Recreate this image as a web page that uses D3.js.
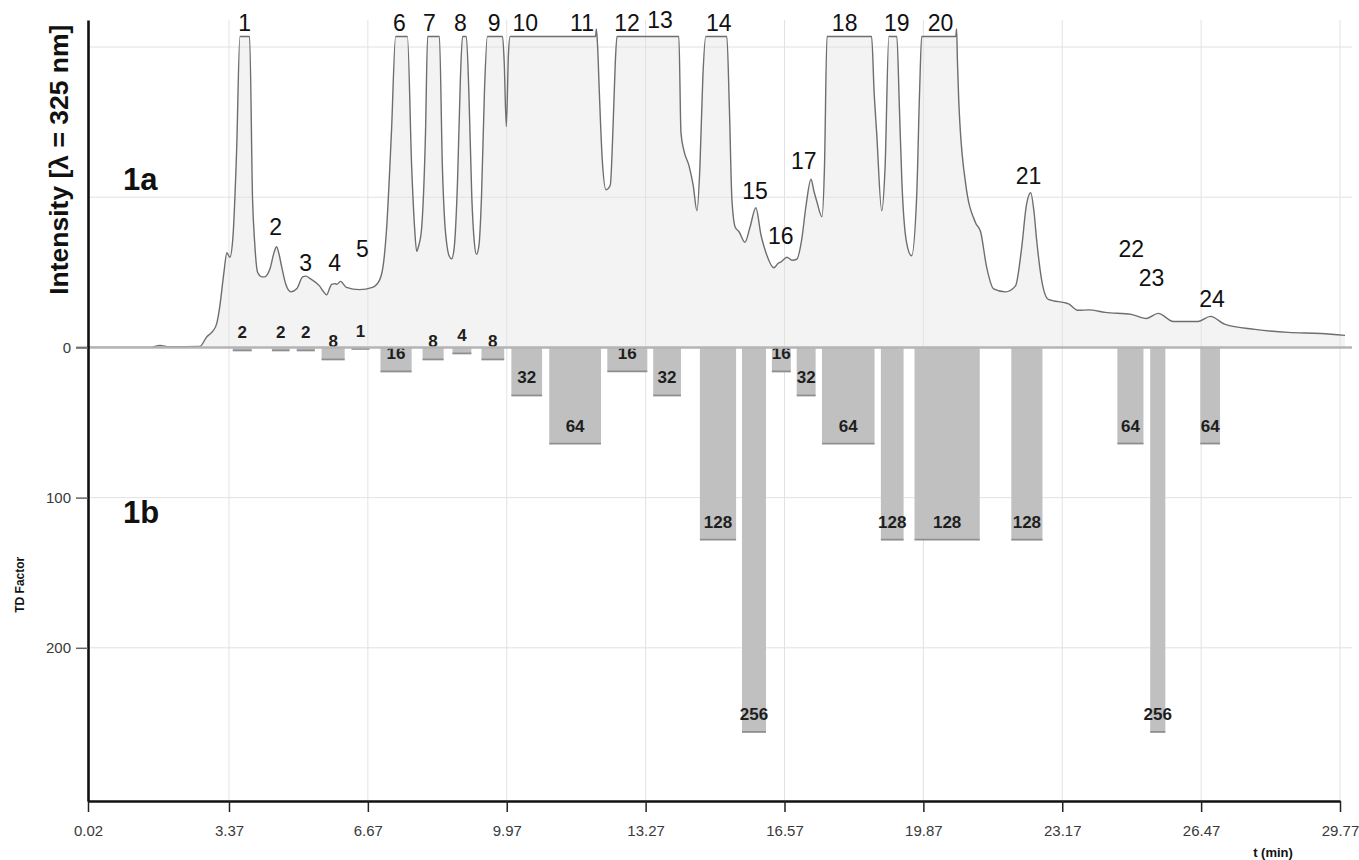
<!DOCTYPE html>
<html>
<head>
<meta charset="utf-8">
<script src="https://cdn.jsdelivr.net/npm/d3@7"></script>
<style>
  body { margin: 0; background: #fff; }
  text { font-family: "Liberation Sans", Arial, sans-serif; }
</style>
</head>
<body>
<div id="chart"></div>
<script>
// Chromatogram (1a) + TD factor bars (1b)

// ---- data ----
const timeTicks = [0.02, 3.37, 6.67, 9.97, 13.27, 16.57, 19.87, 23.17, 26.47, 29.77]
const tdTicks = [0, 100, 200]
const gridLevels = [-200, -100, 100, 200]

// chromatogram trace (flat tops = detector saturation)
const chromTime = [0.02, 1.50, 1.73, 1.95, 2.68, 2.84, 2.92, 2.99, 3.08, 3.15, 3.25, 3.32, 3.39, 3.46, 3.55, 3.63, 3.86, 3.93, 3.98, 4.05,
  4.15, 4.22, 4.34, 4.45, 4.50, 4.56, 4.62, 4.72, 4.84, 4.98, 5.12, 5.20, 5.29, 5.52, 5.62, 5.69, 5.77, 5.81, 5.90, 5.93,
  6.02, 6.16, 6.47, 6.78, 6.95, 7.05, 7.11, 7.23, 7.33, 7.61, 7.71, 7.78, 7.83, 7.88, 7.94, 8.04, 8.09, 8.37, 8.44, 8.50,
  8.54, 8.60, 8.66, 8.72, 8.80, 8.87, 8.92, 9.01, 9.07, 9.14, 9.20, 9.25, 9.31, 9.37, 9.44, 9.51, 9.87, 9.91, 9.96, 10.01,
  10.05, 12.08, 12.10, 12.13, 12.17, 12.24, 12.33, 12.43, 12.50, 12.55, 12.59, 14.06, 14.11, 14.18, 14.30, 14.40, 14.49, 14.56, 14.63, 14.70,
  15.20, 15.26, 15.32, 15.40, 15.49, 15.63, 15.75, 15.89, 16.01, 16.13, 16.32, 16.42, 16.49, 16.63, 16.75, 16.86, 16.98, 17.08, 17.20, 17.27,
  17.34, 17.46, 17.52, 17.58, 18.64, 18.70, 18.76, 18.88, 18.96, 19.05, 19.24, 19.30, 19.36, 19.47, 19.59, 19.71, 19.78, 19.83, 20.64, 20.66,
  20.68, 20.71, 20.87, 21.11, 21.23, 21.37, 21.54, 21.82, 22.06, 22.20, 22.32, 22.42, 22.50, 22.56, 22.68, 22.84, 23.32, 23.55, 23.80, 24.19,
  24.81, 25.17, 25.45, 25.81, 26.40, 26.69, 27.04, 27.75, 28.54, 29.32, 29.89]
const chromIntensity = [0, 0, 1.3, 0.5, 0.7, 7, 9, 11, 16, 27, 50, 63, 60, 72, 130, 207, 207, 99, 70, 50,
  47, 47, 52, 64, 67, 62, 54, 42, 37, 39, 47, 47.5, 46, 41, 37, 35, 40, 42, 42.5, 42,
  44, 40, 38.5, 40, 45, 58, 77, 143, 207, 207, 121, 80, 64, 68, 77, 143, 207, 207, 121, 82,
  70, 61, 59, 66, 110, 180, 207, 207, 170, 100, 70, 62, 68, 100, 170, 207, 207, 190, 147, 195,
  207, 207, 212, 200, 170, 125, 105, 108, 150, 190, 207, 207, 143, 131, 121, 108, 91, 120, 180, 207,
  207, 160, 99, 80, 77, 70, 80, 93, 75, 63, 53, 56, 57, 60, 58, 58.7, 72, 94, 112, 104,
  97, 87, 120, 207, 207, 170, 143, 91, 120, 207, 207, 160, 110, 70, 61, 100, 170, 207, 207, 212,
  190, 165, 110, 83, 77, 54, 39, 37, 41, 65, 95, 103, 90, 72, 45, 32, 29, 24.7, 25, 23.3,
  22, 19.3, 22.7, 17.3, 17.3, 20.7, 15.3, 12, 10, 9.3, 8]

// peak numbers and where their labels sit (time, intensity level)
const peakIds = ['1', '2', '3', '4', '5', '6', '7', '8', '9', '10', '11', '12', '13', '14', '15', '16', '17', '18', '19', '20', '21', '22', '23', '24']
const peakTime = [3.74, 4.48, 5.19, 5.88, 6.54, 7.42, 8.13, 8.87, 9.67, 10.41, 11.76, 12.83, 13.61, 15.01, 15.87, 16.48, 17.03, 18.00, 19.24, 20.28, 22.37, 24.81, 25.29, 26.73]
const peakLevel = [211, 75, 51, 51, 60, 211, 211, 211, 211, 211, 211, 211, 213, 211, 99, 69, 119, 211, 211, 211, 109, 60, 41, 27]

// TD factor fractions
const barStart = [3.46, 4.39, 4.98, 5.57, 6.28, 6.97, 7.97, 8.68, 9.37, 10.08, 10.98, 12.36, 13.45, 14.56, 15.56, 16.27, 16.86, 17.46, 18.86, 19.66, 21.96, 24.48, 25.26, 26.45]
const barEnd = [3.91, 4.81, 5.41, 6.12, 6.71, 7.71, 8.47, 9.13, 9.91, 10.81, 12.21, 13.31, 14.11, 15.42, 16.13, 16.72, 17.31, 18.71, 19.40, 21.21, 22.70, 25.10, 25.62, 26.92]
const tdValue = [2, 2, 2, 8, 1, 16, 8, 4, 8, 32, 64, 16, 32, 128, 256, 16, 32, 64, 128, 128, 128, 64, 256, 64]

// ---- layout ----
const width = 1359
const height = 860
const margin = { top: 20, right: 19, bottom: 59, left: 88 }
const plotRight = 1340
const plotBottom = height - margin.bottom

const x = d3.scaleLinear().domain([0.02, 29.77]).range([margin.left, plotRight])
const yTD = d3.scaleLinear().domain([-218, 302]).range([margin.top, plotBottom])
const yInt = d3.scaleLinear().domain([0, 218]).range([yTD(0), margin.top])

const svg = d3.select('#chart').append('svg')
  .attr('width', width)
  .attr('height', height)

const chromData = chromTime.map((t, i) => ({ t, v: chromIntensity[i] }))

const area = d3.area()
  .x(d => x(d.t))
  .y0(yTD(0))
  .y1(d => yInt(d.v))
  .curve(d3.curveMonotoneX)

const line = d3.line()
  .x(d => x(d.t))
  .y(d => yInt(d.v))
  .curve(d3.curveMonotoneX)

svg.append('path')
  .datum(chromData)
  .attr('d', area)
  .attr('fill', '#f3f3f3')

// grid lines drawn over the light fill
const gridGroup = svg.append('g')
gridGroup.selectAll('.vgrid')
  .data(timeTicks.slice(1))
  .join('line')
  .attr('x1', d => x(d)).attr('x2', d => x(d))
  .attr('y1', margin.top).attr('y2', plotBottom)
  .attr('stroke', '#e2e2e2')
  .attr('stroke-width', 1)
gridGroup.selectAll('.hgrid')
  .data(gridLevels)
  .join('line')
  .attr('x1', margin.left).attr('x2', plotRight + 12)
  .attr('y1', d => yTD(d)).attr('y2', d => yTD(d))
  .attr('stroke', '#e2e2e2')
  .attr('stroke-width', 1)

svg.append('path')
  .datum(chromData)
  .attr('d', line)
  .attr('fill', 'none')
  .attr('stroke', '#6e6e6e')
  .attr('stroke-width', 1.4)

// bars
const barData = tdValue.map((v, i) => ({ v, t0: barStart[i], t1: barEnd[i] }))
const bars = svg.append('g')
bars.selectAll('rect')
  .data(barData)
  .join('rect')
  .attr('x', d => x(d.t0))
  .attr('y', yTD(0))
  .attr('width', d => x(d.t1) - x(d.t0))
  .attr('height', d => yTD(d.v) - yTD(0))
  .attr('fill', '#c0c0c0')
bars.selectAll('line')
  .data(barData)
  .join('line')
  .attr('x1', d => x(d.t0)).attr('x2', d => x(d.t1))
  .attr('y1', d => yTD(d.v)).attr('y2', d => yTD(d.v))
  .attr('stroke', '#8e8e8e')
  .attr('stroke-width', 1.8)
bars.selectAll('text')
  .data(barData)
  .join('text')
  .attr('x', d => (x(d.t0) + x(d.t1)) / 2)
  .attr('y', d => yTD(d.v) - 12)
  .attr('text-anchor', 'middle')
  .attr('font-size', 17)
  .attr('font-weight', 'bold')
  .attr('fill', '#1e1e1e')
  .text(d => d.v)

// zero line
svg.append('line')
  .attr('x1', margin.left - 12).attr('x2', plotRight + 12)
  .attr('y1', yTD(0)).attr('y2', yTD(0))
  .attr('stroke', '#b4b4b4')
  .attr('stroke-width', 2.5)

// axes
const xAxis = d3.axisBottom(x)
  .tickValues(timeTicks)
  .tickFormat(d3.format('.2f'))
  .tickSize(11)
  .tickSizeOuter(0)
  .tickPadding(13)
const xAxisGroup = svg.append('g')
  .attr('transform', `translate(0, ${plotBottom})`)
  .call(xAxis)
xAxisGroup.select('.domain').attr('stroke', '#111').attr('stroke-width', 2.6)
xAxisGroup.selectAll('.tick line').attr('stroke', '#222').attr('stroke-width', 1.5)
xAxisGroup.selectAll('text')
  .attr('font-size', 15)
  .attr('fill', '#3a3a3a')
  .style('font-family', '"Liberation Sans", Arial, sans-serif')

const yAxis = d3.axisLeft(yTD)
  .tickValues(tdTicks)
  .tickSize(12)
  .tickSizeOuter(0)
  .tickPadding(5)
const yAxisGroup = svg.append('g')
  .attr('transform', `translate(${margin.left}, 0)`)
  .call(yAxis)
yAxisGroup.select('.domain').attr('stroke', '#111').attr('stroke-width', 2.6)
yAxisGroup.selectAll('.tick line').attr('stroke', '#666').attr('stroke-width', 1.5)
yAxisGroup.selectAll('text')
  .attr('font-size', 15)
  .attr('fill', '#3a3a3a')
  .style('font-family', '"Liberation Sans", Arial, sans-serif')

// peak numbers
svg.append('g').selectAll('text')
  .data(peakIds)
  .join('text')
  .attr('x', (d, i) => x(peakTime[i]))
  .attr('y', (d, i) => yInt(peakLevel[i]))
  .attr('text-anchor', 'middle')
  .attr('font-size', 23)
  .attr('fill', '#111')
  .text(d => d)

// panel tags and titles
svg.append('text')
  .attr('x', margin.left + 35).attr('y', yInt(105))
  .attr('font-size', 31).attr('font-weight', 'bold').attr('fill', '#111')
  .text('1a')
svg.append('text')
  .attr('x', margin.left + 35).attr('y', yTD(117))
  .attr('font-size', 31).attr('font-weight', 'bold').attr('fill', '#111')
  .text('1b')

svg.append('text')
  .attr('transform', `translate(68, ${yInt(125)}) rotate(-90)`)
  .attr('text-anchor', 'middle')
  .attr('font-size', 26.5).attr('font-weight', 'bold').attr('fill', '#111')
  .text('Intensity [λ = 325 nm]')

svg.append('text')
  .attr('transform', `translate(24, ${yTD(158)}) rotate(-90)`)
  .attr('text-anchor', 'middle')
  .attr('font-size', 12).attr('font-weight', 'bold').attr('fill', '#111')
  .text('TD Factor')

svg.append('text')
  .attr('x', 1273).attr('y', 857)
  .attr('text-anchor', 'middle')
  .attr('font-size', 13).attr('font-weight', 'bold').attr('fill', '#111')
  .text('t (min)')
</script>
</body>
</html>
